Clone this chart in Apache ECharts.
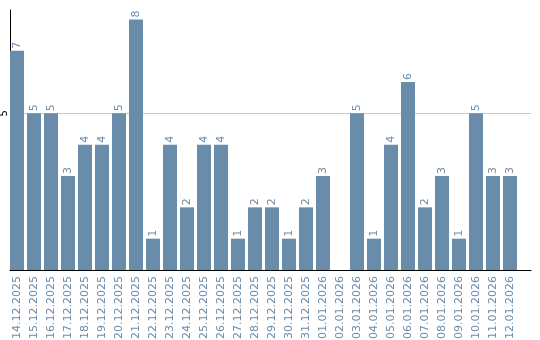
<!DOCTYPE html>
<html>
<head>
<meta charset="utf-8">
<script src="https://cdn.jsdelivr.net/npm/echarts@6/dist/echarts.min.js"></script>
<style>html,body{margin:0;padding:0;background:#fff}#c{width:540px;height:340px}</style>
</head>
<body>
<div id="c"></div>
<script>
const categories = ["14.12.2025","15.12.2025","16.12.2025","17.12.2025","18.12.2025","19.12.2025","20.12.2025","21.12.2025","22.12.2025","23.12.2025","24.12.2025","25.12.2025","26.12.2025","27.12.2025","28.12.2025","29.12.2025","30.12.2025","31.12.2025","01.01.2026","02.01.2026","03.01.2026","04.01.2026","05.01.2026","06.01.2026","07.01.2026","08.01.2026","09.01.2026","10.01.2026","11.01.2026","12.01.2026"];
const values = [7,5,5,3,4,4,5,8,1,4,2,4,4,1,2,2,1,2,3,0,5,1,4,6,2,3,1,5,3,3];
const yTicks = [5];

const blue = '#6a8cab';
const font = 'DejaVu Sans';
const chart = echarts.init(document.getElementById('c'), null, {renderer: 'canvas'});
chart.setOption({
  animation: false,
  grid: [
    {left: 10, top: 10, width: 521, height: 260, containLabel: false, outerBoundsMode: 'none'},
    {left: 8.5, top: 10, width: 510, height: 260, containLabel: false, outerBoundsMode: 'none'}
  ],
  xAxis: [
    {gridIndex: 0, type: 'category', data: categories, axisLine: {show: true, lineStyle: {color: '#000', width: 1}},
     axisTick: {show: false}, axisLabel: {show: false}, splitLine: {show: false}},
    {gridIndex: 1, type: 'category', data: categories, axisLine: {show: false}, axisTick: {show: false},
     axisLabel: {rotate: 90, margin: 6, color: blue, fontFamily: font, fontSize: 11, interval: 0}}
  ],
  yAxis: [
    {gridIndex: 0, type: 'value', min: 0, max: 8.3, interval: 5,
     axisLine: {show: true, lineStyle: {color: '#000', width: 1}}, axisTick: {show: false},
     axisLabel: {rotate: 90, margin: 1, color: '#000', fontFamily: font, fontSize: 10, lineHeight: 10,
       showMinLabel: false, showMaxLabel: false,
       formatter: v => yTicks.indexOf(v) >= 0 ? String(v) : ''},
     splitLine: {show: true, lineStyle: {color: ['rgba(0,0,0,0)', '#c8c8c8', 'rgba(0,0,0,0)'], width: 1}}},
    {gridIndex: 1, type: 'value', min: 0, max: 8.3, show: false, splitLine: {show: false}}
  ],
  series: [{
    type: 'bar', xAxisIndex: 1, yAxisIndex: 1, data: values, barWidth: 14,
    itemStyle: {color: blue},
    label: {show: true, position: 'top', rotate: 90, align: 'left', verticalAlign: 'middle', distance: 2,
      color: blue, fontFamily: font, fontSize: 11,
      formatter: p => p.value ? String(p.value) : ''}
  }]
});
</script>
</body>
</html>
